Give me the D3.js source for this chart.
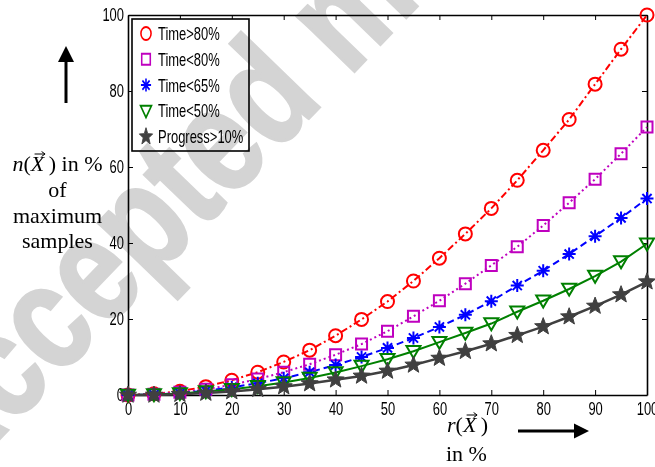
<!DOCTYPE html>
<html>
<head>
<meta charset="utf-8">
<script src="https://cdn.jsdelivr.net/npm/d3@7"></script>
<style>
  body { margin: 0; background: #fff; }
  svg { display: block; }
</style>
</head>
<body>
<svg id="chart" width="655" height="467"></svg>
<script>
// x positions (percent) and the five curves
var xVals = [0, 5, 10, 15, 20, 25, 30, 35, 40, 45, 50, 55, 60, 65, 70, 75, 80, 85, 90, 95, 100];
var timeAbove80 = [0, 0.3, 1.0, 2.2, 3.9, 6.0, 8.7, 11.8, 15.6, 19.9, 24.6, 30.0, 36.0, 42.4, 49.1, 56.5, 64.4, 72.5, 81.8, 91.0, 100];
var timeBelow80 = [0, 0.2, 0.7, 1.5, 2.7, 4.2, 6.0, 8.1, 10.6, 13.4, 16.8, 20.7, 24.8, 29.3, 34.1, 39.0, 44.6, 50.6, 56.8, 63.5, 70.5];
var timeBelow65 = [0, 0.1, 0.5, 1.1, 2.0, 3.1, 4.4, 6.0, 7.9, 10.0, 12.4, 15.0, 17.9, 21.1, 24.7, 28.8, 32.7, 37.1, 41.8, 46.6, 51.7];
var timeBelow50 = [0, 0.1, 0.4, 0.9, 1.5, 2.3, 3.3, 4.5, 5.9, 7.6, 9.4, 11.5, 13.9, 16.3, 18.8, 21.9, 24.8, 27.9, 31.3, 35.1, 39.8];
var progressAbove10 = [0, 0.0, 0.2, 0.5, 0.9, 1.5, 2.2, 3.0, 4.0, 5.0, 6.3, 7.9, 9.7, 11.5, 13.5, 15.7, 18.0, 20.6, 23.4, 26.4, 29.8];
var seriesNames = ["Time>80%", "Time<80%", "Time<65%", "Time<50%", "Progress>10%"];
var xTicks = [0, 10, 20, 30, 40, 50, 60, 70, 80, 90, 100];
var yTicks = [0, 20, 40, 60, 80, 100];

var svg = d3.select("#chart");
var margin = {left: 128, right: 8, top: 15, bottom: 72};
var W = +svg.attr("width"), H = +svg.attr("height");

var x = d3.scaleLinear().domain([0, 100]).range([margin.left, W - margin.right]);
var y = d3.scaleLinear().domain([0, 100]).range([H - margin.bottom, margin.top]);

// marker shapes
var circleSym = {draw: function(c, r) { c.moveTo(r, 0); c.arc(0, 0, r, 0, 2 * Math.PI); }};
var squareSym = {draw: function(c, r) { c.rect(-r, -r, 2 * r, 2 * r); }};
var triDownSym = {draw: function(c, r) { c.moveTo(-r, -r * 0.75); c.lineTo(r, -r * 0.75); c.lineTo(0, r * 0.95); c.closePath(); }};
var asteriskSym = {draw: function(c, r) {
  for (var k = 0; k < 4; k++) {
    var a = k * Math.PI / 4;
    c.moveTo(-r * Math.cos(a), -r * Math.sin(a));
    c.lineTo(r * Math.cos(a), r * Math.sin(a));
  }
}};
var starSym = {draw: function(c, r) {
  for (var k = 0; k < 10; k++) {
    var rr = k % 2 == 0 ? r : r * 0.42;
    var a = -Math.PI / 2 + k * Math.PI / 5;
    if (k == 0) c.moveTo(rr * Math.cos(a), rr * Math.sin(a));
    else c.lineTo(rr * Math.cos(a), rr * Math.sin(a));
  }
  c.closePath();
}};

var series = [
  {name: seriesNames[0], values: timeAbove80, color: "#ff0000", dash: "7,3,2,3", sym: circleSym, size: 6.5, fill: "none", width: 2},
  {name: seriesNames[1], values: timeBelow80, color: "#bf00bf", dash: "2,3", sym: squareSym, size: 5.5, fill: "none", width: 2},
  {name: seriesNames[2], values: timeBelow65, color: "#0000ff", dash: "7,4", sym: asteriskSym, size: 6.5, fill: "none", width: 2},
  {name: seriesNames[3], values: timeBelow50, color: "#008000", dash: null, sym: triDownSym, size: 7, fill: "none", width: 2},
  {name: seriesNames[4], values: progressAbove10, color: "#404040", dash: null, sym: starSym, size: 9, fill: "#404040", width: 2.5}
];

var sansFont = "'Liberation Sans', Arial, Helvetica, sans-serif";
var serifFont = "'Liberation Serif', 'Times New Roman', serif";
var squeeze = 0.7;

// axes
var g = svg.append("g");

var xAxis = d3.axisBottom(x).tickValues(xTicks).tickSizeInner(-5).tickSizeOuter(0).tickPadding(7);
var yAxis = d3.axisLeft(y).tickValues(yTicks).tickSizeInner(-5).tickSizeOuter(0).tickPadding(4);
var xTop = d3.axisTop(x).tickValues(xTicks).tickSizeInner(-5).tickSizeOuter(0).tickFormat("");
var yRight = d3.axisRight(y).tickValues(yTicks).tickSizeInner(-5).tickSizeOuter(0).tickFormat("");

var gx = g.append("g").attr("transform", "translate(0," + y(0) + ")").call(xAxis);
var gy = g.append("g").attr("transform", "translate(" + x(0) + ",0)").call(yAxis);
g.append("g").attr("transform", "translate(0," + y(100) + ")").call(xTop);
g.append("g").attr("transform", "translate(" + x(100) + ",0)").call(yRight);

g.selectAll(".domain").attr("stroke", "#000").attr("stroke-width", 1.6);
g.selectAll(".tick line").attr("stroke", "#000").attr("stroke-width", 1);
g.selectAll(".tick text")
  .attr("fill", "#000")
  .style("font-family", sansFont)
  .style("font-size", "18.5px");
gx.selectAll(".tick text").attr("transform", "scale(" + squeeze + ",1)");
gy.selectAll(".tick text")
  .attr("x", -4 / squeeze)
  .attr("transform", "scale(" + squeeze + ",1)");

// curves
var line = d3.line()
  .x(function(d, i) { return x(xVals[i]); })
  .y(function(d) { return y(d); });

var plot = svg.append("g");
series.forEach(function(s) {
  plot.append("path")
    .datum(s.values)
    .attr("fill", "none")
    .attr("stroke", s.color)
    .attr("stroke-width", s.width)
    .attr("stroke-dasharray", s.dash)
    .attr("d", line);
});
series.forEach(function(s) {
  var sym = d3.symbol().type(s.sym).size(s.size);
  plot.selectAll(null)
    .data(s.values)
    .enter().append("path")
    .attr("transform", function(d, i) { return "translate(" + x(xVals[i]) + "," + y(d) + ")"; })
    .attr("d", sym)
    .attr("fill", s.fill)
    .attr("stroke", s.color)
    .attr("stroke-width", s.fill == "none" ? 2 : 1)
    .attr("stroke-linejoin", "miter");
});

// legend
var legend = svg.append("g");
legend.append("rect")
  .attr("x", 132).attr("y", 19)
  .attr("width", 117).attr("height", 132)
  .attr("fill", "#fff")
  .attr("stroke", "#000")
  .attr("stroke-width", 1.6);
series.forEach(function(s, i) {
  var cy = 33.5 + i * 25.8;
  legend.append("path")
    .attr("transform", "translate(146," + cy + ") scale(0.78,1)")
    .attr("d", d3.symbol().type(s.sym).size(s.size)())
    .attr("fill", s.fill)
    .attr("stroke", s.color)
    .attr("stroke-width", s.fill == "none" ? 2 : 1);
  legend.append("text")
    .attr("transform", "translate(158," + cy + ") scale(0.72,1)")
    .attr("dy", "0.36em")
    .style("font-family", sansFont)
    .style("font-size", "18px")
    .attr("fill", "#000")
    .text(s.name);
});

// y label (left, serif) with arrow above
var ylab = svg.append("g").style("font-family", serifFont).style("font-size", "22px").attr("fill", "#000");
var nx = ylab.append("text").attr("x", 57.5).attr("y", 171).attr("text-anchor", "middle");
nx.append("tspan").style("font-style", "italic").text("n");
nx.append("tspan").text("(");
nx.append("tspan").style("font-style", "italic").text("X");
nx.append("tspan").text("\u2009) in %");
ylab.append("text").attr("x", 57.5).attr("y", 197).attr("text-anchor", "middle").text("of");
ylab.append("text").attr("x", 57.5).attr("y", 223).attr("text-anchor", "middle").text("maximum");
ylab.append("text").attr("x", 57.5).attr("y", 248).attr("text-anchor", "middle").text("samples");

function vecArrow(textSel, charIndex) {
  var box = textSel.node().getExtentOfChar(charIndex);
  var cx = box.x + box.width / 2 + 2, ty = box.y + 3;
  var p = d3.path();
  p.moveTo(cx - 5, ty); p.lineTo(cx + 5, ty);
  p.moveTo(cx + 2, ty - 2.5); p.lineTo(cx + 5.5, ty); p.lineTo(cx + 2, ty + 2.5);
  svg.append("path").attr("d", p.toString()).attr("fill", "none").attr("stroke", "#000").attr("stroke-width", 1);
}
vecArrow(nx, 2);

// up arrow
var arrows = svg.append("g");
arrows.append("line").attr("x1", 66).attr("x2", 66).attr("y1", 103).attr("y2", 60)
  .attr("stroke", "#000").attr("stroke-width", 3);
arrows.append("path").attr("d", "M58,62 L66,46 L74,62 Z").attr("fill", "#000");

// x label (bottom) with right arrow
var xlab = svg.append("g").style("font-family", serifFont).style("font-size", "22px").attr("fill", "#000");
var rx = xlab.append("text").attr("x", 447).attr("y", 432);
rx.append("tspan").style("font-style", "italic").text("r");
rx.append("tspan").text("(");
rx.append("tspan").style("font-style", "italic").text("X");
rx.append("tspan").text("\u2009)");
vecArrow(rx, 2);
xlab.append("text").attr("x", 446).attr("y", 461).text("in %");
arrows.append("line").attr("x1", 518).attr("x2", 576).attr("y1", 431).attr("y2", 431)
  .attr("stroke", "#000").attr("stroke-width", 3);
arrows.append("path").attr("d", "M574,423.5 L589,431 L574,438.5 Z").attr("fill", "#000");

// watermark stamped over the page
svg.append("text")
  .attr("transform", "translate(-50,490) rotate(-46) scale(0.8,1)")
  .style("font-family", sansFont)
  .style("font-weight", "bold")
  .style("font-size", "150px")
  .style("mix-blend-mode", "multiply")
  .attr("fill", "#d4d4d4")
  .attr("stroke", "#d4d4d4")
  .attr("stroke-width", 3)
  .text("Accepted manuscript");
</script>
</body>
</html>
